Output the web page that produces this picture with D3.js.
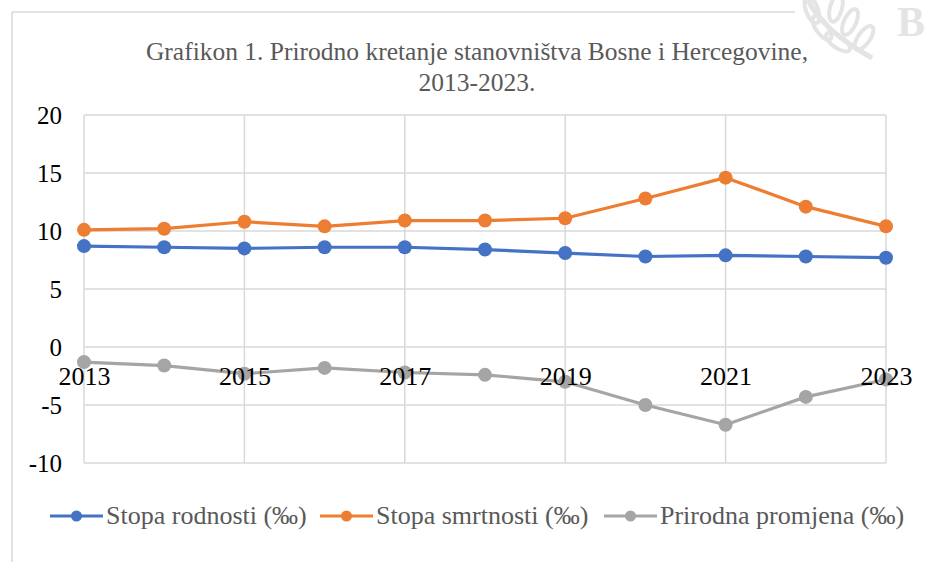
<!DOCTYPE html>
<html>
<head>
<meta charset="utf-8">
<script src="https://cdnjs.cloudflare.com/ajax/libs/d3/7.8.5/d3.min.js"></script>
<style>
  body { margin: 0; background: #fff; }
  svg { display: block; }
</style>
</head>
<body>
<svg id="chart" width="929" height="562"></svg>
<script>
var years = [2013, 2014, 2015, 2016, 2017, 2018, 2019, 2020, 2021, 2022, 2023];
var xTickYears = [2013, 2015, 2017, 2019, 2021, 2023];
var yTicks = [-10, -5, 0, 5, 10, 15, 20];

var birthRate = [8.7, 8.6, 8.5, 8.6, 8.6, 8.4, 8.1, 7.8, 7.9, 7.8, 7.7];
var deathRate = [10.1, 10.2, 10.8, 10.4, 10.9, 10.9, 11.1, 12.8, 14.6, 12.1, 10.4];
var naturalChange = [-1.3, -1.6, -2.3, -1.8, -2.2, -2.4, -3.0, -5.0, -6.7, -4.3, -2.8];

var seriesNames = ["Stopa rodnosti (‰)", "Stopa smrtnosti (‰)", "Prirodna promjena (‰)"];
var seriesColors = ["#4472C4", "#ED7D31", "#A5A5A5"];

var svg = d3.select("#chart");
var serif = "Liberation Serif";

// frame
svg.append("line").attr("x1", 12).attr("x2", 12).attr("y1", 12).attr("y2", 562)
    .attr("stroke", "#d9d9d9").attr("stroke-width", 1.5);
svg.append("line").attr("x1", 12).attr("x2", 795).attr("y1", 12).attr("y2", 12)
    .attr("stroke", "#d9d9d9").attr("stroke-width", 1.5);

// watermark (faint laurel + letter)
var wm = svg.append("g").attr("opacity", 0.1);
wm.append("path").attr("d", "M808,0 Q822,30 872,58").attr("fill", "none")
    .attr("stroke", "#000").attr("stroke-width", 5);
[[812, 10, -20], [822, 28, -35], [838, 42, -55], [836, 8, 15], [850, 22, 25], [864, 38, 35]].forEach(function (l) {
    wm.append("ellipse").attr("cx", l[0]).attr("cy", l[1]).attr("rx", 6).attr("ry", 14)
        .attr("transform", "rotate(" + l[2] + "," + l[0] + "," + l[1] + ")")
        .attr("fill", "none").attr("stroke", "#000").attr("stroke-width", 4);
});
wm.append("text").attr("x", 897).attr("y", 36)
    .attr("font-family", serif).attr("font-weight", "bold").attr("font-size", 42)
    .attr("fill", "#000").text("B");

// title
var title = svg.append("text").attr("text-anchor", "middle")
    .attr("font-family", serif).attr("font-size", 25.5).attr("fill", "#595959");
title.append("tspan").attr("x", 477).attr("y", 60).text("Grafikon 1. Prirodno kretanje stanovništva Bosne i Hercegovine,");
title.append("tspan").attr("x", 477).attr("y", 91).text("2013-2023.");

var x = d3.scaleLinear().domain([2013, 2023]).range([84, 886]);
var y = d3.scaleLinear().domain([-10, 20]).range([463, 115]);

// gridlines
var grid = svg.append("g");
grid.selectAll("line.h").data(yTicks).enter().append("line").attr("class", "h")
    .attr("x1", x(2013)).attr("x2", x(2023))
    .attr("y1", function (d) { return y(d); }).attr("y2", function (d) { return y(d); })
    .attr("stroke", "#d9d9d9").attr("stroke-width", 1.5);
grid.selectAll("line.v").data(xTickYears).enter().append("line").attr("class", "v")
    .attr("x1", function (d) { return x(d); }).attr("x2", function (d) { return x(d); })
    .attr("y1", y(20)).attr("y2", y(-10))
    .attr("stroke", "#d9d9d9").attr("stroke-width", 1.5);

// y axis labels (plain hyphen minus like the original)
var yAxis = svg.append("g").attr("transform", "translate(" + (x(2013) - 22) + ",0)")
    .call(d3.axisLeft(y).tickValues(yTicks).tickSize(0).tickPadding(0)
        .tickFormat(function (d) { return String(d); }));
yAxis.select(".domain").remove();
yAxis.selectAll("text").attr("font-family", serif).attr("font-size", 25).attr("fill", "#000")
    .attr("dy", "0.34em");

// series
var allSeries = [birthRate, deathRate, naturalChange];
var line = d3.line().x(function (d, i) { return x(years[i]); }).y(function (d) { return y(d); });

allSeries.forEach(function (vals, s) {
    var g = svg.append("g");
    g.append("path").datum(vals).attr("d", line).attr("fill", "none")
        .attr("stroke", seriesColors[s]).attr("stroke-width", 3.2).attr("stroke-linejoin", "round");
    g.selectAll("circle").data(vals).enter().append("circle")
        .attr("cx", function (d, i) { return x(years[i]); })
        .attr("cy", function (d) { return y(d); })
        .attr("r", 7).attr("fill", seriesColors[s]);
});

// x axis labels drawn on top, just under the zero line
var xAxis = svg.append("g").attr("transform", "translate(0," + (y(0) + 30) + ")")
    .call(d3.axisBottom(x).tickValues(xTickYears).tickFormat(function (d) { return String(d); })
        .tickSize(0).tickPadding(0));
xAxis.select(".domain").remove();
xAxis.selectAll("text").attr("font-family", serif).attr("font-size", 26).attr("fill", "#000")
    .attr("dy", "0.32em");

// legend
var legendX = [50, 320, 604];
var legend = svg.append("g");
seriesNames.forEach(function (name, i) {
    var lg = legend.append("g").attr("transform", "translate(" + legendX[i] + ",516)");
    lg.append("line").attr("x1", 0).attr("x2", 53).attr("y1", 0).attr("y2", 0)
        .attr("stroke", seriesColors[i]).attr("stroke-width", 3);
    lg.append("circle").attr("cx", 26.5).attr("cy", 0).attr("r", 5.5).attr("fill", seriesColors[i]);
    lg.append("text").attr("x", 56).attr("y", 8)
        .attr("font-family", serif).attr("font-size", 26).attr("fill", "#595959").text(name);
});
</script>
</body>
</html>
